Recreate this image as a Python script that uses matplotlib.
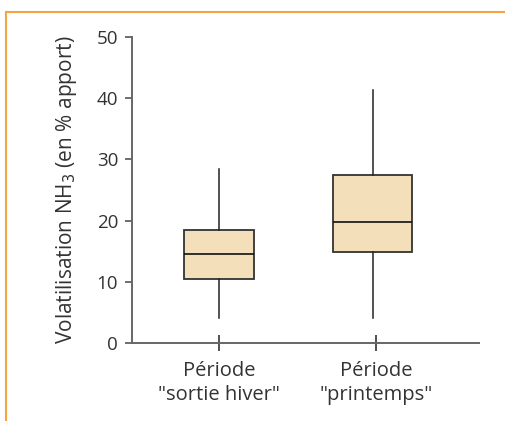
import matplotlib
matplotlib.use("Agg")
import matplotlib.pyplot as plt
from matplotlib.lines import Line2D

categories = ['Période\n"sortie hiver"', 'Période\n"printemps"']
whislo = [4.1, 4.1]
q1 = [10.4, 14.9]
med = [14.5, 19.7]
q3 = [18.4, 27.4]
whishi = [28.5, 41.3]
yticks = [0, 10, 20, 30, 40, 50]

plt.rcParams['font.family'] = ['Open Sans', 'DejaVu Sans']

W, H = 505, 421
fig = plt.figure(figsize=(W / 100, H / 100), dpi=100)
ax = fig.add_axes([132 / W, 1 - 343 / H, (479 - 132) / W, (343 - 37) / H])

stats = []
for i in range(len(categories)):
    stats.append(dict(whislo=whislo[i], q1=q1[i], med=med[i], q3=q3[i],
                      whishi=whishi[i], fliers=[], label=categories[i]))

ax.bxp(stats, positions=[1, 1.978], widths=[0.446, 0.503], patch_artist=True,
       showcaps=False, showfliers=False,
       boxprops=dict(facecolor='#F3DFB9', edgecolor='#333333', linewidth=1.3),
       medianprops=dict(color='#111111', linewidth=1.2),
       whiskerprops=dict(color='#222222', linewidth=1.1))

ax.set_xlim(1 - 87 / 157, 2 + 103 / 157)
ax.set_ylim(0, 50)
ax.set_xticks([1, 2])
ax.set_xticklabels(categories, fontsize=14.5, color='#333333', linespacing=1.25)
ax.set_yticks(yticks)
ax.set_yticklabels([str(v) for v in yticks], fontsize=13.5, color='#333333')

for s in ['top', 'right']:
    ax.spines[s].set_visible(False)
for s in ['left', 'bottom']:
    ax.spines[s].set_color('#666666')
    ax.spines[s].set_linewidth(1.4)

ax.tick_params(axis='y', direction='out', length=5, width=1.2, color='#555555', pad=5)
ax.tick_params(axis='x', direction='inout', length=12, width=1.2, color='#333333', pad=7)

ax.set_ylabel('Volatilisation NH$_3$ (en % apport)', fontsize=15, color='#333333', labelpad=13)

fig.add_artist(Line2D([6 / W, 1], [1 - 12 / H, 1 - 12 / H], color='#F2A541', linewidth=1.5,
                      transform=fig.transFigure))
fig.add_artist(Line2D([6 / W, 6 / W], [1 - 12 / H, 0], color='#F2A541', linewidth=1.5,
                      transform=fig.transFigure))

fig.savefig('out.png', dpi=100)
